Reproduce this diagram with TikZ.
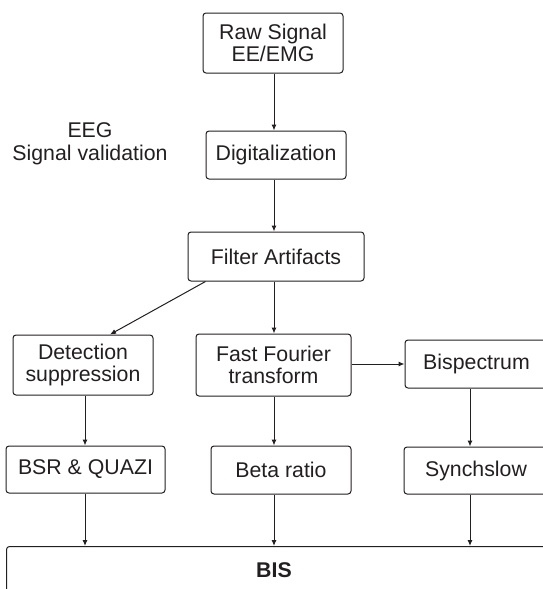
\documentclass[tikz,border=0pt]{standalone}
\usepackage{fontspec}
\setmainfont{Liberation Sans}
\usetikzlibrary{arrows.meta,calc}
\definecolor{ink}{HTML}{231F20}
\begin{document}
\begin{tikzpicture}[x=1pt,y=-1pt,
  box/.style={draw=ink,line width=1pt,rounded corners=3pt,align=center,
    inner sep=0pt,text=ink,font=\fontsize{21.3}{22.5}\selectfont},
  arr/.style={draw=ink,line width=1pt,-{Latex[length=6pt,width=5pt]}},
  lbl/.style={align=center,text=ink,font=\fontsize{21.3}{22.5}\selectfont}]
\useasboundingbox (0,0) rectangle (543,589);
\clip (0,0) rectangle (543,589);
\coordinate (colm) at (274,0);
\coordinate (coll) at (85,0);
\coordinate (colr) at (470,0);
\node[box,minimum width=140pt,minimum height=60pt] (raw) at (273,43) {Raw Signal\\EE/EMG};
\node[box,minimum width=140pt,minimum height=48pt] (dig) at (276,155) {Digitalization};
\node[box,minimum width=176pt,minimum height=49pt] (filt) at (276,256.5) {Filter Artifacts};
\node[lbl] (eeg) at (90,144) {EEG\\Signal validation};
\node[box,minimum width=140pt,minimum height=60pt] (det) at (83,365) {Detection\\suppression};
\node[box,minimum width=155pt,minimum height=62pt] (fft) at (273.5,365) {Fast Fourier\\transform};
\node[box,minimum width=143pt,minimum height=48pt] (bisp) at (476.5,364) {Bispectrum};
\node[box,minimum width=159pt,minimum height=47pt] (bsr) at (85.5,469.5) {BSR \& QUAZI};
\node[box,minimum width=140pt,minimum height=48pt] (beta) at (281,470) {Beta ratio};
\node[box,minimum width=144pt,minimum height=47pt] (sync) at (476,470.5) {Synchslow};
\node[box,minimum width=560pt,minimum height=80pt,anchor=north west] (bis) at (6,546) {};
\node[lbl,font=\fontsize{21.3}{22.5}\selectfont\bfseries] (bistxt) at (274,570) {BIS};
\draw[arr] (raw.south -| colm) -- (dig.north -| colm);
\draw[arr] (dig.south -| colm) -- (filt.north -| colm);
\draw[arr] (filt.south -| colm) -- (fft.north -| colm);
\draw[arr] ([xshift=18pt]filt.south west) -- ([xshift=27pt]det.north);
\draw[arr] (fft.east |- bisp.west) -- (bisp.west);
\draw[arr] (fft.south -| colm) -- (beta.north -| colm);
\draw[arr] (beta.south -| colm) -- (bis.north -| colm);
\draw[arr] (det.south -| coll) -- (bsr.north -| coll);
\draw[arr] (bsr.south -| coll) -- (bis.north -| coll);
\draw[arr] (bisp.south -| colr) -- (sync.north -| colr);
\draw[arr] (sync.south -| colr) -- (bis.north -| colr);
\end{tikzpicture}
\end{document}
